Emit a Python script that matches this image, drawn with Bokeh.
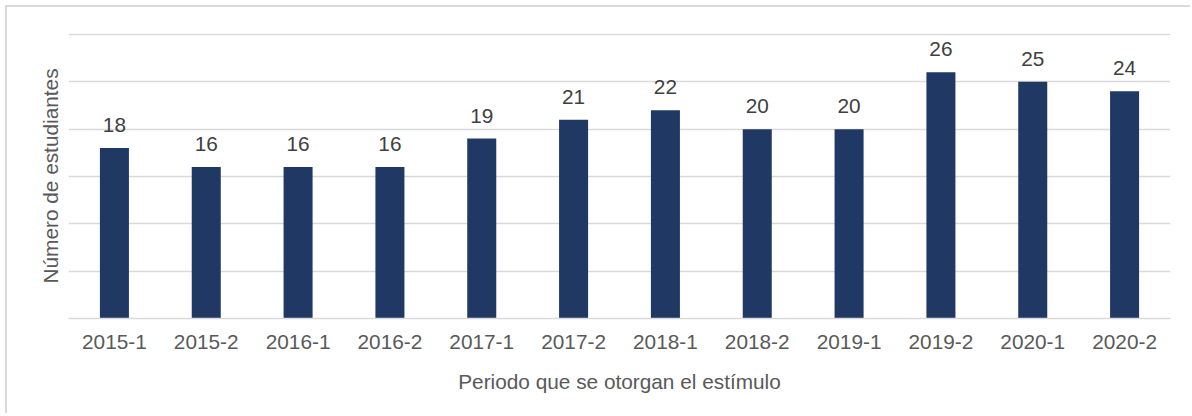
from bokeh.plotting import figure
from bokeh.models import ColumnDataSource, LabelSet, FixedTicker
from bokeh.core.properties import value
from bokeh.embed import file_html
from bokeh.resources import INLINE

periods = ["2015-1", "2015-2", "2016-1", "2016-2", "2017-1", "2017-2",
           "2018-1", "2018-2", "2019-1", "2019-2", "2020-1", "2020-2"]
students = [18, 16, 16, 16, 19, 21, 22, 20, 20, 26, 25, 24]
y_ticks = [0, 5, 10, 15, 20, 25, 30]

FONT = "Liberation Sans"
FS = "20.8px"

src = ColumnDataSource(dict(period=periods, students=students,
                            label=[str(v) for v in students]))

p = figure(x_range=periods, y_range=(0, 30.1), width=1185, height=408,
           output_backend="svg", toolbar_location=None,
           min_border_left=61, min_border_right=22,
           min_border_top=26, min_border_bottom=97)
p.styles = {"margin-left": "5px", "margin-top": "5px",
            "border-left": "2px solid #d9d9d9", "border-top": "2px solid #d9d9d9"}
p.outline_line_color = None
p.background_fill_color = "white"
p.border_fill_color = "white"

p.vbar(x="period", top="students", width=0.316, source=src,
       fill_color="#203864", line_color=None)

labels = LabelSet(x="period", y="students", text="label", source=src,
                  text_align="center", text_baseline="alphabetic", y_offset=16,
                  text_font=value(FONT), text_font_size=value(FS),
                  text_color="#404040")
p.add_layout(labels)

p.ygrid.ticker = FixedTicker(ticks=y_ticks)
p.ygrid.grid_line_color = "#d9d9d9"
p.ygrid.grid_line_width = 1.3
p.xgrid.grid_line_color = None

p.yaxis.ticker = FixedTicker(ticks=[])
p.yaxis.axis_label = "Número de estudiantes"
p.yaxis.axis_label_text_font = FONT
p.yaxis.axis_label_text_font_size = FS
p.yaxis.axis_label_text_font_style = "normal"
p.yaxis.axis_label_text_color = "#595959"
p.yaxis.major_tick_line_color = None
p.yaxis.minor_tick_line_color = None
p.yaxis.axis_line_color = None
p.yaxis.major_tick_out = 0
p.yaxis.major_label_standoff = 0
p.yaxis.axis_label_standoff = 7

p.xaxis.axis_label = "Periodo que se otorgan el estímulo"
p.xaxis.axis_label_text_font = FONT
p.xaxis.axis_label_text_font_size = FS
p.xaxis.axis_label_text_font_style = "normal"
p.xaxis.axis_label_text_color = "#595959"
p.xaxis.major_label_text_font = FONT
p.xaxis.major_label_text_font_size = FS
p.xaxis.major_label_text_color = "#595959"
p.xaxis.major_tick_line_color = None
p.xaxis.major_tick_out = 0
p.xaxis.major_tick_in = 0
p.xaxis.axis_line_color = "#d9d9d9"
p.xaxis.axis_line_width = 1.5
p.xaxis.major_label_standoff = 16
p.xaxis.axis_label_standoff = 18

open("out.html", "w").write(file_html(p, INLINE))
